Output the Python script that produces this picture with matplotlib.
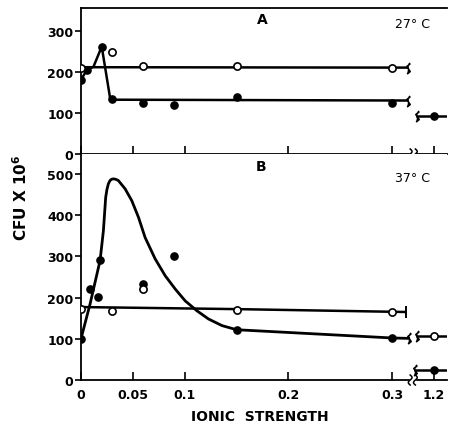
import numpy as np
import matplotlib
matplotlib.use("Agg")
import matplotlib.pyplot as plt
from matplotlib.path import Path
import matplotlib.transforms as mtransforms

plt.rcParams['font.family'] = ['DejaVu Sans']
plt.rcParams['font.weight'] = 'bold'
plt.rcParams['mathtext.default'] = 'bf'

# ---------------- data ----------------
xticks = [0, 0.05, 0.1, 0.2, 0.3, 1.2]
xtick_labels = ["0", "0.05", "0.1", "0.2", "0.3", "1.2"]

# Panel A (27 C)
a_open_x = [0, 0.03, 0.06, 0.15, 0.30]
a_open_y = [209, 247, 213, 214, 209]
a_open_line_x = [0, 0.315]
a_open_line_y = [211, 210]

a_fill_x = [0, 0.006, 0.02, 0.03, 0.06, 0.09, 0.15, 0.30, 1.2]
a_fill_y = [181, 205, 261, 134, 124, 119, 139, 123, 92]
a_fill_line_x = [0, 0.006, 0.012, 0.02, 0.028, 0.031, 0.315]
a_fill_line_y = [181, 205, 212, 261, 137, 132, 130]
a_fill_hi_y = 92

# Panel B (37 C)
b_open_x = [0, 0.03, 0.06, 0.15, 0.30, 1.2]
b_open_y = [172, 168, 220, 171, 166, 106]
b_open_line_x = [0, 0.15, 0.313]
b_open_line_y = [177, 172, 165]
b_open_hi_y = 106

b_fill_x = [0, 0.009, 0.016, 0.018, 0.06, 0.09, 0.15, 0.30, 1.2]
b_fill_y = [100, 222, 202, 290, 233, 302, 121, 102, 25]
b_curve_x = [0, 0.0087, 0.0184, 0.0216, 0.0238, 0.025, 0.0264, 0.028, 0.0295,
             0.0312, 0.0335, 0.036, 0.0425, 0.049, 0.0554, 0.0618, 0.0715,
             0.0812, 0.0908, 0.1005, 0.1118, 0.123, 0.136, 0.150, 0.30, 0.316]
b_curve_y = [100, 184, 290, 362, 443, 462, 476, 484, 487,
             488, 487, 484, 464, 435, 395, 346, 294,
             253, 221, 192, 168, 148, 132, 122, 102, 101]
b_fill_hi_y = 25

# ---------------- broken x scale ----------------
HI = 1.2
HI_POS = 0.3404
SHIFT = HI - HI_POS
seg_start = 1.184
seg_end = 1.2126


def fwd(x):
    x = np.asarray(x, dtype=float)
    return np.where(x > 0.7, x - SHIFT, x)


def inv(u):
    u = np.asarray(u, dtype=float)
    return np.where(u > 0.321, u + SHIFT, u)


brace = Path([(-0.25, -1.0), (0.3, -0.55), (0.0, -0.1), (-0.3, 0.35),
              (0.25, 0.8), (0.1, 1.0)],
             [Path.MOVETO] + [Path.LINETO] * 5)

fig = plt.figure(figsize=(4.5, 4.27), dpi=100)
axA = fig.add_axes([0.18, 0.637, 0.8133, 0.342])
axB = fig.add_axes([0.18, 0.1077, 0.8133, 0.529])

lw = 1.8
ms = 5.2

for ax in (axA, axB):
    ax.set_xscale('function', functions=(fwd, inv))
    ax.set_xlim(0, seg_end)
    ax.set_xticks(xticks)
    ax.minorticks_off()
    ax.spines['right'].set_visible(False)
    for s in ax.spines.values():
        s.set_linewidth(1.3)
    ax.tick_params(axis='x', direction='in', length=6, width=1.2, pad=6,
                   labelsize=9)
    ax.tick_params(axis='y', direction='out', length=4, width=1.2, pad=1.5,
                   labelsize=9)

axA.set_ylim(0, 355)
axA.set_yticks([0, 100, 200, 300])
axA.set_xticklabels([])
axB.set_ylim(0, 548)
axB.set_yticks([0, 100, 200, 300, 400, 500])
axB.set_xticklabels(xtick_labels)
axB.spines['top'].set_visible(False)

# ---- Panel A ----
axA.plot(a_open_line_x, a_open_line_y, color='black', lw=lw, zorder=2)
axA.plot(a_fill_line_x, a_fill_line_y, color='black', lw=lw, zorder=2)
axA.plot([seg_start, seg_end], [a_fill_hi_y, a_fill_hi_y], color='black', lw=lw, zorder=2)
axA.plot(a_fill_x, a_fill_y, 'o', color='black', ms=ms, ls='none', zorder=3)
axA.plot(a_open_x, a_open_y, 'o', mfc='white', mec='black', mew=1.2, ms=ms,
         ls='none', zorder=4)
axA.plot([a_open_line_x[-1]], [a_open_line_y[-1]], marker=brace, ms=8, mew=1.2,
         color='black', ls='none')
axA.plot([a_fill_line_x[-1]], [a_fill_line_y[-1]], marker=brace, ms=8, mew=1.2,
         color='black', ls='none')
axA.plot([seg_start], [a_fill_hi_y], marker=brace, ms=8, mew=1.2, color='black', ls='none')

# ---- Panel B ----
axB.plot(b_open_line_x, b_open_line_y, color='black', lw=lw, zorder=2)
axB.plot(b_curve_x, b_curve_y, color='black', lw=lw + 0.2, zorder=2,
         solid_joinstyle='round')
axB.plot([seg_start, seg_end], [b_open_hi_y, b_open_hi_y], color='black', lw=lw, zorder=2)
axB.plot([seg_start - 0.002, seg_end], [b_fill_hi_y, b_fill_hi_y], color='black', lw=lw, zorder=2)
axB.plot(b_fill_x, b_fill_y, 'o', color='black', ms=ms, ls='none', zorder=3)
axB.plot(b_open_x, b_open_y, 'o', mfc='white', mec='black', mew=1.2, ms=ms,
         ls='none', zorder=4)
axB.plot([b_open_line_x[-1]], [b_open_line_y[-1]], marker='|', ms=8, mew=1.4,
         color='black', ls='none')
axB.plot([b_curve_x[-1]], [b_curve_y[-1]], marker=brace, ms=8, mew=1.2,
         color='black', ls='none')
axB.plot([seg_start], [b_open_hi_y], marker=brace, ms=8, mew=1.2, color='black', ls='none')
axB.plot([seg_start - 0.002], [b_fill_hi_y], marker=brace, ms=8, mew=1.2, color='black', ls='none')

# ---- axis break marks on the x axes ----
for ax in (axA, axB):
    trans = mtransforms.blended_transform_factory(ax.transData, ax.transAxes)
    hpx = ax.get_position().height * fig.get_figheight() * fig.dpi
    h = 5.0 / hpx
    ax.fill_between([0.3175, 0.3225], [-h * 0.4, -h * 0.4], [h * 0.4, h * 0.4],
                    color='white', transform=trans, clip_on=False, zorder=5)
    t = np.linspace(-1, 1, 25)
    for xc in (0.3175, 0.3225):
        xs = xc + 0.0018 * np.sin(t * np.pi)
        ys = t * h
        ax.plot(xs, ys, color='black', lw=1.1, transform=trans, clip_on=False, zorder=6)

# ---- text ----
axA.text(0.495, 0.925, "A", transform=axA.transAxes, ha='center', va='center',
         fontsize=10, fontweight='bold')
axA.text(0.905, 0.895, "27° C", transform=axA.transAxes, ha='center', va='center',
         fontsize=9, fontweight='normal')
axB.text(0.492, 0.947, "B", transform=axB.transAxes, ha='center', va='center',
         fontsize=10, fontweight='bold')
axB.text(0.905, 0.898, "37° C", transform=axB.transAxes, ha='center', va='center',
         fontsize=9, fontweight='normal')

fig.text(0.047, 0.536, "CFU X 10$^{6}$", rotation=90, ha='center', va='center',
         fontsize=11, fontweight='bold')
fig.text(0.578, 0.023, "IONIC  STRENGTH", ha='center', va='center', fontsize=10,
         fontweight='bold')

fig.savefig("out.png", dpi=100)
